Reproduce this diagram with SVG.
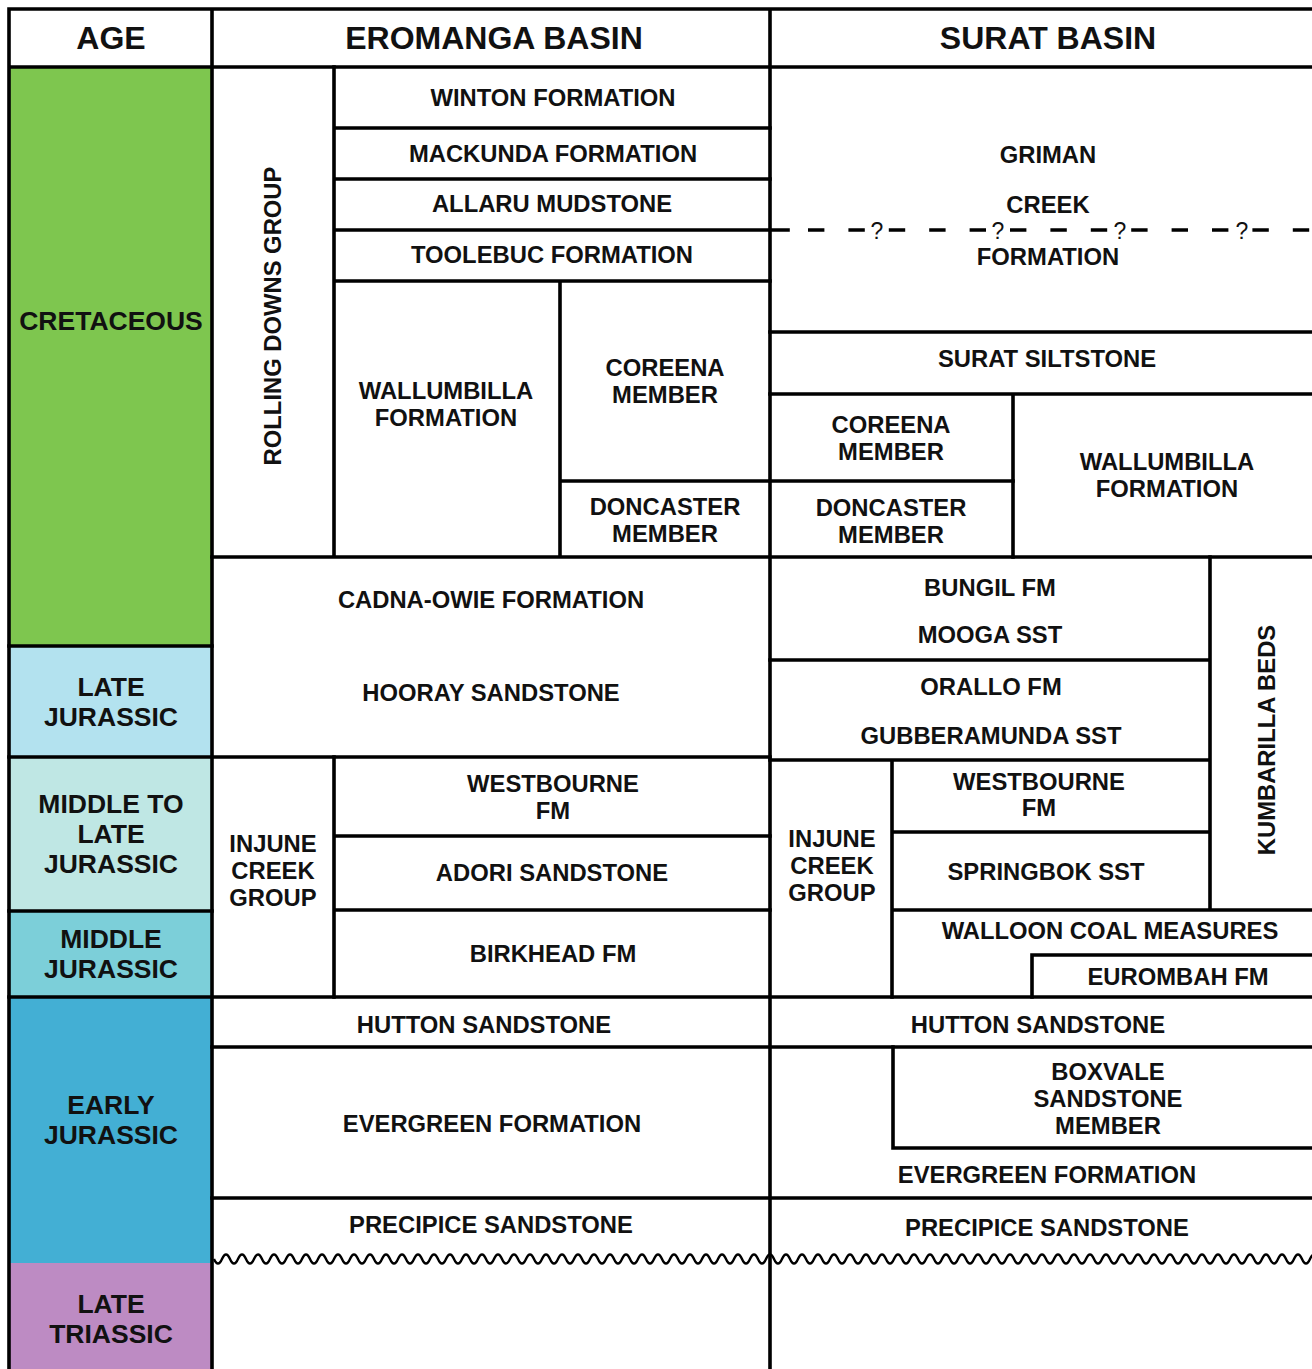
<svg xmlns="http://www.w3.org/2000/svg" width="1312" height="1369" viewBox="0 0 1312 1369">
<style>
text{font-family:"Liberation Sans",Arial,sans-serif;font-weight:bold;fill:#111;text-anchor:middle}
.h{font-size:32px}
.a{font-size:26.5px}
.t{font-size:23.8px}
.q{font-size:23px;font-weight:normal}
.ln{stroke:#000;stroke-width:3.6;fill:none;stroke-linecap:square}
.dash{stroke:#000;stroke-width:3.6;fill:none;stroke-dasharray:16.4 24}
.wave{stroke:#000;stroke-width:2.4;fill:none}
</style>
<rect x="0" y="0" width="1312" height="1369" fill="#fff"/>
<g id="age-cells">
<g id="cretaceous"><rect x="9" y="67" width="203" height="579" fill="#7ec64f"/><text class="a" x="111" y="330">CRETACEOUS</text></g>
<g id="late-jurassic"><rect x="9" y="646" width="203" height="111" fill="#b3e2ef"/><text class="a" x="111" y="696">LATE</text><text class="a" x="111" y="726">JURASSIC</text></g>
<g id="middle-late-jurassic"><rect x="9" y="757" width="203" height="154" fill="#bfe7e4"/><text class="a" x="111" y="813">MIDDLE TO</text><text class="a" x="111" y="843">LATE</text><text class="a" x="111" y="873">JURASSIC</text></g>
<g id="middle-jurassic"><rect x="9" y="911" width="203" height="86" fill="#7ccfd9"/><text class="a" x="111" y="948">MIDDLE</text><text class="a" x="111" y="978">JURASSIC</text></g>
<g id="early-jurassic"><rect x="9" y="997" width="203" height="266" fill="#43afd4"/><text class="a" x="111" y="1114">EARLY</text><text class="a" x="111" y="1144">JURASSIC</text></g>
<g id="late-triassic"><rect x="9" y="1263" width="203" height="106" fill="#bd8bc3"/><text class="a" x="111" y="1313">LATE</text><text class="a" x="111" y="1343">TRIASSIC</text></g>
</g>
<g id="headers">
<g id="h-age"><text class="h" x="111" y="49">AGE</text></g>
<g id="h-eromanga"><text class="h" x="494" y="49">EROMANGA BASIN</text></g>
<g id="h-surat"><text class="h" x="1048" y="49">SURAT BASIN</text></g>
</g>
<g id="connectors">
<path class="ln" d="M9,9H1314 M9,67H1314 M9,9V1371 M212,9V1371 M770,9V1371"/>
<path class="ln" d="M9,646H212 M9,757H770 M9,911H212 M9,997H1314"/>
<path class="ln" d="M334,67V557 M334,128H770 M334,179H770 M334,230H788 M334,281H770 M560,281V557 M560,481H1013 M212,557H1314"/>
<path class="ln" d="M334,757V997 M334,836H770 M334,910H770 M212,1047H1314 M212,1198H1314"/>
<path class="ln" d="M770,332H1314 M770,394H1314 M1013,394V557 M1210,557V910 M770,660H1210 M770,760H1210 M892,760V997 M892,832H1210 M892,910H1314 M1032,955V997 M1032,955H1314 M893,1047V1148 M893,1148H1314"/>
<line class="dash" x1="808" y1="230" x2="1314" y2="230"/>
<path class="wave" d="M214,1259q4,9 8,0t8,0t8,0t8,0t8,0t8,0t8,0t8,0t8,0t8,0t8,0t8,0t8,0t8,0t8,0t8,0t8,0t8,0t8,0t8,0t8,0t8,0t8,0t8,0t8,0t8,0t8,0t8,0t8,0t8,0t8,0t8,0t8,0t8,0t8,0t8,0t8,0t8,0t8,0t8,0t8,0t8,0t8,0t8,0t8,0t8,0t8,0t8,0t8,0t8,0t8,0t8,0t8,0t8,0t8,0t8,0t8,0t8,0t8,0t8,0t8,0t8,0t8,0t8,0t8,0t8,0t8,0t8,0t8,0t8,0t8,0t8,0t8,0t8,0t8,0t8,0t8,0t8,0t8,0t8,0t8,0t8,0t8,0t8,0t8,0t8,0t8,0t8,0t8,0t8,0t8,0t8,0t8,0t8,0t8,0t8,0t8,0t8,0t8,0t8,0t8,0t8,0t8,0t8,0t8,0t8,0t8,0t8,0t8,0t8,0t8,0t8,0t8,0t8,0t8,0t8,0t8,0t8,0t8,0t8,0t8,0t8,0t8,0t8,0t8,0t8,0t8,0t8,0t8,0t8,0t8,0t8,0t8,0t8,0t8,0t8,0t8,0t8,0t8,0t8,0t8,0t8,0t8,0t8,0t8,0t8,0t8,0t8,0t8,0t8,0t8,0t8,0t8,0t8,0t8,0t8,0t8,0t8,0t8,0t8,0t8,0t8,0t8,0t8,0t8,0t8,0"/>
</g>
<g id="eromanga">
<g id="rolling-downs"><text class="t" transform="translate(273,316) rotate(-90)" x="0" y="8.4">ROLLING DOWNS GROUP</text></g>
<g id="winton"><text class="t" x="553" y="106">WINTON FORMATION</text></g>
<g id="mackunda"><text class="t" x="553" y="162">MACKUNDA FORMATION</text></g>
<g id="allaru"><text class="t" x="552" y="212">ALLARU MUDSTONE</text></g>
<g id="toolebuc"><text class="t" x="552" y="263">TOOLEBUC FORMATION</text></g>
<g id="e-wallumbilla"><text class="t" x="446" y="399">WALLUMBILLA</text><text class="t" x="446" y="426">FORMATION</text></g>
<g id="e-coreena"><text class="t" x="665" y="376">COREENA</text><text class="t" x="665" y="403">MEMBER</text></g>
<g id="e-doncaster"><text class="t" x="665" y="515">DONCASTER</text><text class="t" x="665" y="542">MEMBER</text></g>
<g id="cadna-owie"><text class="t" x="491" y="608">CADNA-OWIE FORMATION</text></g>
<g id="hooray"><text class="t" x="491" y="701">HOORAY SANDSTONE</text></g>
<g id="e-injune"><text class="t" x="273" y="852">INJUNE</text><text class="t" x="273" y="879">CREEK</text><text class="t" x="273" y="906">GROUP</text></g>
<g id="e-westbourne"><text class="t" x="553" y="792">WESTBOURNE</text><text class="t" x="553" y="819">FM</text></g>
<g id="adori"><text class="t" x="552" y="881">ADORI SANDSTONE</text></g>
<g id="birkhead"><text class="t" x="553" y="962">BIRKHEAD FM</text></g>
<g id="e-hutton"><text class="t" x="484" y="1033">HUTTON SANDSTONE</text></g>
<g id="e-evergreen"><text class="t" x="492" y="1132">EVERGREEN FORMATION</text></g>
<g id="e-precipice"><text class="t" x="491" y="1233">PRECIPICE SANDSTONE</text></g>
</g>
<g id="surat">
<g id="griman-creek"><text class="t" x="1048" y="163">GRIMAN</text><text class="t" x="1048" y="213">CREEK</text><text class="t" x="1048" y="265">FORMATION</text>
<text class="q" x="877" y="239">?</text><text class="q" x="998" y="239">?</text><text class="q" x="1120" y="239">?</text><text class="q" x="1242" y="239">?</text></g>
<g id="surat-siltstone"><text class="t" x="1047" y="367">SURAT SILTSTONE</text></g>
<g id="s-coreena"><text class="t" x="891" y="433">COREENA</text><text class="t" x="891" y="460">MEMBER</text></g>
<g id="s-doncaster"><text class="t" x="891" y="516">DONCASTER</text><text class="t" x="891" y="543">MEMBER</text></g>
<g id="s-wallumbilla"><text class="t" x="1167" y="470">WALLUMBILLA</text><text class="t" x="1167" y="497">FORMATION</text></g>
<g id="bungil"><text class="t" x="990" y="596">BUNGIL FM</text></g>
<g id="mooga"><text class="t" x="990" y="643">MOOGA SST</text></g>
<g id="orallo"><text class="t" x="991" y="695">ORALLO FM</text></g>
<g id="gubberamunda"><text class="t" x="991" y="744">GUBBERAMUNDA SST</text></g>
<g id="kumbarilla"><text class="t" transform="translate(1267,740) rotate(-90)" x="0" y="8.4">KUMBARILLA BEDS</text></g>
<g id="s-injune"><text class="t" x="832" y="847">INJUNE</text><text class="t" x="832" y="874">CREEK</text><text class="t" x="832" y="901">GROUP</text></g>
<g id="s-westbourne"><text class="t" x="1039" y="790">WESTBOURNE</text><text class="t" x="1039" y="816">FM</text></g>
<g id="springbok"><text class="t" x="1046" y="880">SPRINGBOK SST</text></g>
<g id="walloon"><text class="t" x="1110" y="939">WALLOON COAL MEASURES</text></g>
<g id="eurombah"><text class="t" x="1178" y="985">EUROMBAH FM</text></g>
<g id="s-hutton"><text class="t" x="1038" y="1033">HUTTON SANDSTONE</text></g>
<g id="boxvale"><text class="t" x="1108" y="1080">BOXVALE</text><text class="t" x="1108" y="1107">SANDSTONE</text><text class="t" x="1108" y="1134">MEMBER</text></g>
<g id="s-evergreen"><text class="t" x="1047" y="1183">EVERGREEN FORMATION</text></g>
<g id="s-precipice"><text class="t" x="1047" y="1236">PRECIPICE SANDSTONE</text></g>
</g>
</svg>
